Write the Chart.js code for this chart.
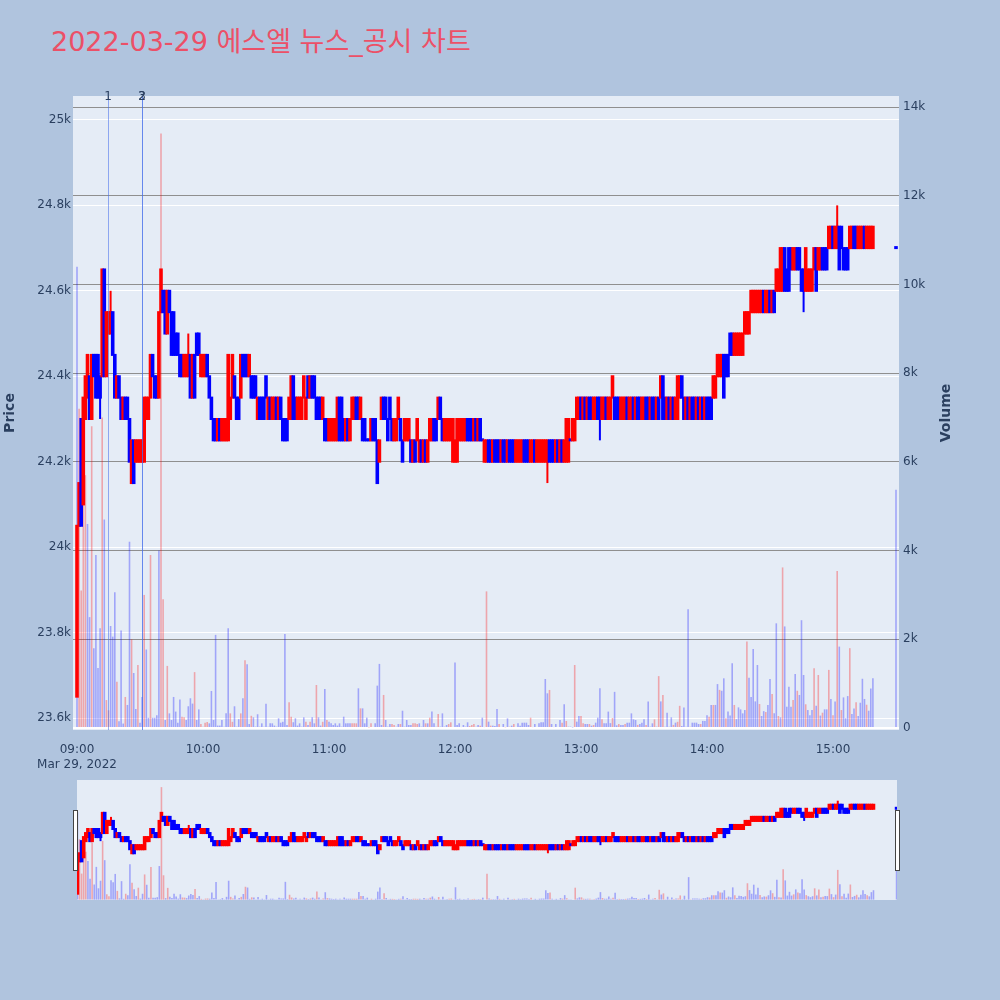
<!DOCTYPE html>
<html>
<head>
<meta charset="utf-8">
<script src="https://cdn.jsdelivr.net/npm/chart.js@4.4.1/dist/chart.umd.min.js"></script>
<style>
body { margin: 0; background: #B0C4DE; }
#wrap { position: relative; width: 1000px; height: 1000px; }
#title { position: absolute; left: 51px; top: 28px; font: 27px/27px "DejaVu Sans", "Noto Sans CJK KR", sans-serif; color: #EC5067; white-space: nowrap; }
canvas { position: absolute; left: 0; }
</style>
</head>
<body>
<div id="wrap">
  <div id="title">2022-03-29 에스엘 뉴스_공시 차트</div>
  <canvas id="main" width="1000" height="1000" style="top:0"></canvas>
  <canvas id="slider" width="1000" height="140" style="top:770px"></canvas>
</div>
<script>
// 1-minute candles from 09:00 (index = minutes after 09:00), last one is the 15:30 close
var open = [
 23650,24050,24300,24100,24300,24350,24400,24300,24450,24450,
 24450,24400,24400,24650,24400,24500,24500,24550,24450,24350,
 24400,24350,24300,24350,24350,24300,24150,24250,24200,24200,
 24200,24200,24200,24300,24300,24350,24450,24400,24400,24350,
 24550,24600,24600,24500,24600,24550,24550,24500,24500,24450,
 24450,24400,24400,24400,24450,24350,24450,24500,24500,24400,
 24400,24400,24450,24400,24350,24300,24300,24250,24300,24250,
 24250,24250,24250,24300,24350,24400,24350,24350,24350,24450,
 24450,24450,24400,24400,24400,24400,24300,24350,24350,24350,
 24400,24300,24350,24300,24300,24350,24300,24350,24300,24300,
 24300,24300,24300,24400,24350,24300,24300,24300,24350,24300,
 24400,24350,24400,24400,24350,24350,24350,24300,24300,24300,
 24250,24250,24250,24250,24250,24350,24350,24300,24250,24300,
 24250,24300,24300,24350,24350,24300,24300,24300,24250,24250,
 24250,24300,24300,24250,24200,24300,24350,24350,24300,24350,
 24300,24250,24250,24300,24300,24250,24250,24250,24250,24250,
 24200,24250,24250,24200,24250,24200,24250,24200,24250,24250,
 24300,24300,24300,24350,24300,24250,24250,24250,24250,24200,
 24200,24200,24250,24250,24250,24250,24300,24300,24300,24250,
 24300,24250,24300,24250,24200,24200,24250,24250,24200,24250,
 24250,24250,24200,24250,24250,24200,24250,24250,24250,24200,
 24200,24200,24200,24250,24250,24250,24200,24200,24250,24200,
 24200,24200,24200,24200,24200,24250,24250,24250,24200,24250,
 24200,24250,24200,24200,24200,24250,24250,24250,24300,24300,
 24350,24300,24350,24300,24350,24350,24300,24300,24350,24350,
 24300,24300,24350,24300,24300,24350,24350,24350,24350,24300,
 24300,24300,24350,24300,24300,24350,24300,24350,24350,24300,
 24300,24350,24350,24300,24350,24350,24300,24350,24350,24400,
 24350,24300,24350,24300,24350,24300,24300,24350,24400,24350,
 24300,24350,24300,24350,24350,24300,24350,24300,24350,24300,
 24350,24350,24350,24350,24350,24400,24400,24400,24450,24450,
 24450,24500,24500,24450,24450,24450,24450,24450,24500,24500,
 24500,24550,24550,24550,24550,24550,24550,24600,24550,24550,
 24600,24550,24600,24600,24600,24600,24600,24700,24650,24700,
 24700,24650,24650,24700,24700,24650,24650,24600,24600,24600,
 24600,24650,24700,24650,24650,24700,24700,24700,24700,24700,
 24750,24700,24700,24750,24750,24700,24700,24700,24700,24700,
 24750,24750,24700,24700,24700,24750,24700,24700,24700,24700,
 24700
];
var high = [
 24050,24150,24300,24350,24400,24450,24400,24450,24450,24450,
 24450,24400,24650,24650,24550,24550,24600,24550,24450,24400,
 24400,24350,24350,24350,24350,24300,24250,24250,24250,24250,
 24250,24250,24350,24350,24350,24450,24450,24400,24400,24550,
 24650,24600,24600,24600,24600,24550,24550,24500,24500,24450,
 24450,24450,24450,24500,24450,24450,24450,24500,24500,24450,
 24450,24450,24450,24400,24350,24300,24300,24300,24300,24300,
 24300,24300,24450,24350,24450,24400,24350,24350,24450,24450,
 24450,24450,24450,24400,24400,24400,24350,24350,24350,24350,
 24400,24350,24350,24350,24350,24350,24350,24350,24300,24300,
 24300,24350,24400,24400,24350,24350,24350,24350,24400,24350,
 24400,24400,24400,24400,24350,24350,24350,24350,24300,24300,
 24300,24300,24300,24300,24350,24350,24350,24300,24300,24300,
 24300,24350,24350,24350,24350,24350,24300,24300,24250,24250,
 24300,24300,24300,24250,24250,24350,24350,24350,24300,24350,
 24300,24300,24300,24350,24300,24250,24300,24300,24300,24250,
 24250,24250,24300,24250,24250,24250,24250,24250,24300,24300,
 24300,24300,24350,24350,24300,24300,24300,24300,24300,24300,
 24250,24300,24300,24300,24300,24300,24300,24300,24300,24300,
 24300,24300,24300,24250,24250,24250,24250,24250,24250,24250,
 24250,24250,24250,24250,24250,24250,24250,24250,24250,24250,
 24250,24250,24250,24250,24250,24250,24250,24250,24250,24250,
 24250,24250,24250,24250,24250,24250,24250,24250,24250,24250,
 24250,24250,24250,24300,24300,24250,24300,24300,24350,24350,
 24350,24350,24350,24350,24350,24350,24350,24350,24350,24350,
 24350,24350,24350,24350,24350,24400,24350,24350,24350,24350,
 24350,24350,24350,24350,24350,24350,24350,24350,24350,24350,
 24350,24350,24350,24350,24350,24350,24350,24350,24400,24400,
 24350,24350,24350,24350,24350,24350,24400,24400,24400,24350,
 24350,24350,24350,24350,24350,24350,24350,24350,24350,24350,
 24350,24350,24350,24400,24400,24450,24450,24450,24450,24450,
 24450,24500,24500,24500,24500,24500,24500,24500,24550,24550,
 24550,24600,24600,24600,24600,24600,24600,24600,24600,24600,
 24600,24600,24600,24650,24650,24700,24700,24700,24650,24700,
 24700,24700,24700,24700,24700,24650,24650,24700,24650,24650,
 24650,24700,24700,24700,24700,24700,24700,24700,24750,24750,
 24750,24750,24800,24750,24750,24700,24700,24700,24750,24750,
 24750,24750,24750,24750,24750,24750,24750,24750,24750,24750,
 24700
];
var low = [
 23650,24050,24050,24100,24300,24350,24300,24300,24400,24350,
 24350,24300,24400,24400,24400,24500,24500,24450,24350,24350,
 24350,24300,24300,24300,24300,24200,24150,24150,24200,24200,
 24200,24200,24200,24300,24300,24350,24400,24350,24350,24350,
 24550,24550,24500,24500,24550,24450,24450,24450,24450,24400,
 24400,24400,24400,24400,24350,24350,24350,24450,24450,24400,
 24400,24400,24400,24350,24300,24250,24250,24250,24250,24250,
 24250,24250,24250,24300,24350,24350,24300,24300,24350,24400,
 24400,24400,24400,24350,24350,24350,24300,24300,24300,24300,
 24350,24300,24300,24300,24300,24300,24300,24300,24250,24250,
 24250,24300,24300,24300,24300,24300,24300,24300,24350,24300,
 24350,24350,24350,24350,24300,24300,24300,24300,24250,24250,
 24250,24250,24250,24250,24250,24250,24250,24250,24250,24250,
 24250,24300,24300,24300,24300,24300,24250,24250,24250,24250,
 24250,24250,24250,24150,24200,24300,24300,24300,24250,24300,
 24250,24250,24250,24300,24250,24200,24250,24250,24250,24200,
 24200,24200,24250,24200,24200,24200,24200,24200,24250,24250,
 24250,24250,24300,24300,24250,24250,24250,24250,24250,24200,
 24200,24200,24250,24250,24250,24250,24250,24250,24250,24250,
 24250,24250,24250,24250,24200,24200,24200,24200,24200,24200,
 24200,24200,24200,24200,24200,24200,24200,24200,24200,24200,
 24200,24200,24200,24200,24200,24200,24200,24200,24200,24200,
 24200,24200,24200,24200,24150,24200,24200,24200,24200,24200,
 24200,24200,24200,24200,24200,24250,24250,24250,24300,24300,
 24300,24300,24300,24300,24300,24300,24300,24300,24300,24250,
 24300,24300,24300,24300,24300,24350,24300,24300,24300,24300,
 24300,24300,24300,24300,24300,24300,24300,24300,24300,24300,
 24300,24300,24300,24300,24300,24300,24300,24300,24350,24300,
 24300,24300,24300,24300,24300,24300,24300,24350,24350,24300,
 24300,24300,24300,24300,24300,24300,24300,24300,24300,24300,
 24300,24300,24300,24350,24350,24400,24400,24400,24350,24400,
 24400,24450,24450,24450,24450,24450,24450,24450,24500,24500,
 24500,24550,24550,24550,24550,24550,24550,24550,24550,24550,
 24550,24550,24550,24600,24600,24600,24600,24600,24600,24600,
 24650,24650,24650,24650,24650,24600,24550,24600,24600,24600,
 24600,24650,24600,24650,24650,24650,24650,24650,24700,24700,
 24700,24700,24700,24650,24700,24650,24650,24650,24700,24700,
 24700,24700,24700,24700,24700,24700,24700,24700,24700,24700,
 24700
];
var close = [
 24050,24150,24050,24350,24400,24450,24300,24450,24400,24350,
 24350,24350,24650,24400,24550,24550,24550,24450,24350,24400,
 24350,24300,24350,24300,24300,24200,24250,24150,24250,24250,
 24250,24250,24350,24350,24350,24450,24400,24350,24350,24550,
 24650,24550,24500,24600,24550,24450,24450,24450,24450,24400,
 24400,24450,24450,24450,24350,24450,24350,24450,24450,24450,
 24450,24450,24400,24350,24300,24250,24250,24300,24250,24300,
 24300,24300,24450,24350,24450,24350,24300,24300,24450,24400,
 24400,24400,24450,24350,24350,24350,24350,24300,24300,24300,
 24350,24350,24300,24350,24350,24300,24350,24300,24250,24250,
 24250,24350,24400,24300,24300,24350,24350,24350,24400,24350,
 24350,24400,24350,24350,24300,24300,24300,24350,24250,24250,
 24300,24300,24300,24300,24350,24250,24250,24250,24300,24250,
 24300,24350,24350,24300,24300,24350,24250,24250,24250,24250,
 24300,24250,24250,24150,24250,24350,24300,24300,24250,24300,
 24250,24300,24300,24350,24250,24200,24300,24300,24300,24200,
 24250,24200,24300,24250,24200,24250,24200,24250,24300,24300,
 24250,24250,24350,24300,24250,24300,24300,24300,24300,24300,
 24250,24300,24300,24300,24300,24300,24250,24250,24250,24300,
 24250,24300,24250,24250,24250,24250,24200,24200,24250,24200,
 24200,24200,24250,24200,24200,24250,24200,24200,24200,24250,
 24250,24250,24250,24200,24200,24200,24250,24250,24200,24250,
 24250,24250,24250,24250,24250,24200,24200,24200,24250,24200,
 24250,24200,24250,24300,24300,24250,24300,24300,24350,24350,
 24300,24350,24300,24350,24300,24300,24350,24350,24300,24300,
 24350,24350,24300,24350,24350,24400,24300,24300,24300,24350,
 24350,24350,24300,24350,24350,24300,24350,24300,24300,24350,
 24350,24300,24300,24350,24300,24300,24350,24300,24400,24300,
 24300,24350,24300,24350,24300,24350,24400,24400,24350,24300,
 24350,24300,24350,24300,24300,24350,24300,24350,24300,24350,
 24300,24300,24300,24400,24400,24450,24450,24450,24350,24400,
 24400,24450,24450,24500,24500,24500,24500,24500,24550,24550,
 24550,24600,24600,24600,24600,24600,24600,24550,24600,24600,
 24550,24600,24550,24650,24650,24700,24700,24600,24600,24600,
 24650,24700,24700,24650,24650,24600,24600,24700,24650,24650,
 24650,24700,24600,24700,24700,24650,24650,24650,24750,24750,
 24700,24750,24750,24650,24700,24650,24650,24650,24750,24750,
 24700,24700,24750,24750,24750,24700,24750,24750,24750,24750,
 24700
];
var volume = [
 10400,7200,3100,6500,5700,4600,2500,6800,1800,3900,
 1350,2250,7000,4700,630,400,2300,2060,3060,1040,
 150,2200,100,700,520,4200,2000,1240,430,1420,
 120,700,3000,1770,230,3900,230,230,290,4000,
 13400,2900,180,1400,330,180,700,370,120,640,
 255,240,180,490,670,550,1260,180,420,90,
 30,120,135,105,835,180,2100,55,55,180,
 30,330,2250,330,140,490,30,200,330,670,
 1530,1440,90,275,240,30,310,30,105,30,
 545,30,105,105,55,30,220,120,140,2120,
 70,580,255,130,220,55,105,30,240,140,
 70,140,240,105,970,240,55,140,880,180,
 140,105,70,105,55,105,30,255,105,105,
 105,105,105,105,895,443,443,105,233,10,
 105,20,105,955,1445,68,745,180,30,90,
 90,68,30,90,90,390,30,180,68,68,
 105,105,90,105,30,180,105,105,233,370,
 105,30,316,30,330,30,68,90,128,20,
 1475,68,105,20,68,30,128,45,68,90,
 30,68,53,233,20,3080,143,53,53,45,
 428,90,20,90,15,218,30,53,90,20,
 105,53,120,120,120,68,233,20,90,20,
 105,128,128,1105,782,858,90,20,90,20,
 180,120,534,158,30,30,10,1420,143,270,
 270,105,90,90,90,53,68,120,233,895,
 195,105,105,370,110,225,815,60,90,70,
 70,90,120,120,330,195,180,70,90,120,
 195,70,600,30,105,195,30,1170,600,745,
 30,345,30,240,70,120,140,500,45,465,
 30,2680,30,120,120,120,90,90,160,160,
 285,255,520,520,520,990,860,840,1120,220,
 370,280,1460,520,200,465,420,330,405,1950,
 1135,700,1780,600,1420,540,270,380,360,520,
 1105,765,330,2360,270,240,3620,2290,480,930,
 480,630,1220,840,745,2430,1195,535,405,290,
 405,1345,500,1195,280,345,420,420,1310,655,
 290,600,3540,1835,405,690,220,720,1800,315,
 440,580,270,570,1110,655,525,390,890,1120,
 5370
];
// 1 = volume bar drawn red, 0 = blue
var volUp = [
 0,1,1,1,1,0,0,1,0,0, 0,0,1,0,1,1,0,0,0,1, 0,0,0,1,0,0,1,0,0,1, 0,0,1,0,0,1,0,0,0,0,
 1,1,0,1,0,0,0,0,0,0, 1,1,0,0,0,0,1,0,0,1, 0,1,1,0,0,0,0,0,0,0, 0,0,0,1,1,0,0,0,1,0,
 1,0,0,1,0,0,0,0,0,0, 0,0,0,0,0,0,0,0,0,0, 0,1,1,0,0,0,0,0,0,1, 0,1,0,0,1,0,0,1,0,1,
 0,0,0,0,0,0,0,0,0,0, 0,1,1,1,0,1,0,0,0,1, 1,0,0,0,0,0,1,0,0,0, 1,1,0,0,1,0,0,0,0,0,
 1,1,1,0,0,0,1,0,1,0, 0,0,1,0,0,0,0,1,1,0, 0,0,0,0,0,0,0,1,1,1, 0,0,1,0,0,1,0,1,0,0,
 0,1,0,0,1,0,1,0,1,0, 0,0,0,0,0,0,1,0,0,0, 0,0,0,0,0,1,0,0,0,0, 0,1,0,1,0,0,0,1,0,0,
 1,1,0,0,1,0,1,0,0,0, 1,0,0,0,0,1,0,0,1,0, 0,1,0,0,0,0,0,1,0,0, 0,1,0,0,0,1,0,1,0,1,
 0,0,0,0,1,0,1,1,0,0, 0,0,1,0,0,0,0,1,0,0, 0,1,0,1,0,0,1,0,0,1, 0,0,0,1,0,0,0,0,0,1,
 0,0,0,0,0,1,0,0,1,0, 0,1,0,0,1,0,1,0,0,0, 0,1,0,1,0,0,0,1,0,0, 0,1,0,1,0,1,0,0,1,0,
 1,0,1,0,1,0,0,0,1,0, 0,1,0,0,0,0,1,0,0,0,
 0
];
var closeMinute = 390;

var timeTicks = [0, 60, 120, 180, 240, 300, 360];
var timeLabels = ['09:00', '10:00', '11:00', '12:00', '13:00', '14:00', '15:00'];
var dateLabel = 'Mar 29, 2022';
var priceTicks = [23600, 23800, 24000, 24200, 24400, 24600, 24800, 25000];
var priceLabels = ['23.6k', '23.8k', '24k', '24.2k', '24.4k', '24.6k', '24.8k', '25k'];
var volTicks = [0, 2000, 4000, 6000, 8000, 10000, 12000, 14000];
var volLabels = ['0', '2k', '4k', '6k', '8k', '10k', '12k', '14k'];
var newsMinutes = [14.8, 31, 31];
var newsLabels = ['1', '2', '3'];

Chart.defaults.font.family = "'DejaVu Sans', 'Noto Sans CJK KR', sans-serif";
Chart.defaults.font.size = 12;
Chart.defaults.color = '#2a3f5f';

var UP = '#ff0000', DOWN = '#0000ff';
var UP_V = 'rgba(255,0,0,0.3)', DOWN_V = 'rgba(0,0,255,0.3)';

function xOf(i) { return i === open.length - 1 ? closeMinute : i; }
var rising = open.map(function (o, i) { return close[i] > o; });

function makeSets(bodyW, wickW, volW) {
  return [{
    // body, inflated by 1px like plotly's 2px box outline
    yAxisID: 'y', order: 1, grouped: false, barThickness: bodyW, minBarLength: 1, inflateAmount: 1,
    data: open.map(function (o, i) { return {x: xOf(i), y: [o, close[i]]}; }),
    backgroundColor: rising.map(function (u) { return u ? UP : DOWN; })
  }, {
    yAxisID: 'y', order: 2, grouped: false, barThickness: wickW, inflateAmount: 0,
    data: low.map(function (l, i) { return {x: xOf(i), y: [l, high[i]]}; }),
    backgroundColor: rising.map(function (u) { return u ? UP : DOWN; })
  }, {
    yAxisID: 'y2', order: 3, grouped: false, barThickness: volW, inflateAmount: 0,
    data: volume.map(function (v, i) { return {x: xOf(i), y: v}; }),
    backgroundColor: volUp.map(function (u) { return u ? UP_V : DOWN_V; })
  }];
}

var plotBg = {
  id: 'plotBg',
  beforeDraw: function (chart) {
    var a = chart.chartArea, ctx = chart.ctx;
    ctx.save();
    ctx.fillStyle = '#E5ECF6';
    ctx.fillRect(a.left, a.top, a.width, a.height);
    ctx.restore();
  }
};

var newsLines = {
  id: 'newsLines',
  afterDatasetsDraw: function (chart) {
    var ctx = chart.ctx, a = chart.chartArea, x = chart.scales.x;
    ctx.save();
    newsMinutes.forEach(function (m, i) {
      var px = Math.round(x.getPixelForValue(m)) + 0.5;
      ctx.strokeStyle = 'rgba(70,110,235,0.55)';
      ctx.lineWidth = 1;
      ctx.beginPath();
      ctx.moveTo(px, a.top);
      ctx.lineTo(px, a.bottom);
      ctx.stroke();
    });
    ctx.fillStyle = '#2a3f5f';
    ctx.font = "12px 'DejaVu Sans'";
    ctx.textAlign = 'center';
    ctx.textBaseline = 'middle';
    newsMinutes.forEach(function (m, i) {
      ctx.fillText(newsLabels[i], x.getPixelForValue(m), a.top + 1);
    });
    ctx.restore();
  }
};

var volTitle = {
  id: 'volTitle',
  afterDraw: function (chart) {
    var ctx = chart.ctx, a = chart.chartArea;
    ctx.save();
    ctx.translate(946, (a.top + a.bottom) / 2);
    ctx.rotate(-Math.PI / 2);
    ctx.fillStyle = '#2a3f5f';
    ctx.font = "bold 14px 'DejaVu Sans'";
    ctx.textAlign = 'center';
    ctx.textBaseline = 'middle';
    ctx.fillText('Volume', 0, 0);
    ctx.restore();
  }
};

new Chart(document.getElementById('main'), {
  type: 'bar',
  data: {datasets: makeSets(1.6, 2, 1.6)},
  options: {
    responsive: false,
    animation: false,
    events: [],
    layout: {padding: {top: 96, bottom: 230, left: 0, right: 44}},
    plugins: {legend: {display: false}, tooltip: {enabled: false}},
    scales: {
      x: {
        type: 'linear', min: -1.905, max: 391.43, offset: false,
        grid: {display: false}, border: {display: false},
        afterBuildTicks: function (s) { s.ticks = timeTicks.map(function (v) { return {value: v}; }); },
        afterFit: function (s) { s.height = 40; },
        ticks: {
          padding: 5, maxRotation: 0, autoSkip: false,
          callback: function (v) {
            var k = timeTicks.indexOf(v);
            return k === 0 ? [timeLabels[k], dateLabel] : timeLabels[k];
          }
        }
      },
      y: {
        type: 'linear', position: 'left', min: 23572, max: 25056, beginAtZero: false,
        grid: {color: '#ffffff', lineWidth: 1, drawTicks: false}, border: {display: false},
        afterBuildTicks: function (s) { s.ticks = priceTicks.map(function (v) { return {value: v}; }); },
        afterFit: function (s) { s.width = 73; },
        ticks: {padding: 2, callback: function (v) { return priceLabels[priceTicks.indexOf(v)]; }},
        title: {display: true, text: 'Price', font: {size: 14, weight: 'bold'}, padding: 2}
      },
      y2: {
        type: 'linear', position: 'right', min: -45, max: 14248, beginAtZero: false,
        grid: {
          drawTicks: false,
          color: function (c) { return c.tick && c.tick.value === 0 ? '#ffffff' : '#8f8f8f'; },
          lineWidth: function (c) { return c.tick && c.tick.value === 0 ? 2 : 1; }
        },
        border: {display: false},
        afterBuildTicks: function (s) { s.ticks = volTicks.map(function (v) { return {value: v}; }); },
        afterFit: function (s) { s.width = 57; },
        ticks: {padding: 4, callback: function (v) { return volLabels[volTicks.indexOf(v)]; }}
      }
    }
  },
  plugins: [plotBg, newsLines, volTitle]
});

var handles = {
  id: 'handles',
  afterDraw: function (chart) {
    var ctx = chart.ctx, a = chart.chartArea;
    ctx.save();
    ctx.fillStyle = '#ffffff';
    ctx.strokeStyle = '#444444';
    ctx.lineWidth = 1;
    [a.left - 3.5, a.right - 1.5].forEach(function (hx) {
      ctx.fillRect(hx, a.top + 30.5, 4, 60);
      ctx.strokeRect(hx, a.top + 30.5, 4, 60);
    });
    ctx.restore();
  }
};

new Chart(document.getElementById('slider'), {
  type: 'bar',
  data: {datasets: makeSets(1.6, 2, 1.6)},
  options: {
    responsive: false,
    animation: false,
    events: [],
    layout: {padding: {top: 10, bottom: 10, left: 77, right: 103}},
    plugins: {legend: {display: false}, tooltip: {enabled: false}},
    scales: {
      x: {type: 'linear', min: -0.2, max: 390.2, offset: false, display: false},
      y: {type: 'linear', min: 23572, max: 25056, beginAtZero: false, display: false},
      y2: {type: 'linear', min: -45, max: 14248, beginAtZero: false, display: false}
    }
  },
  plugins: [plotBg, handles]
});
</script>
</body>
</html>
